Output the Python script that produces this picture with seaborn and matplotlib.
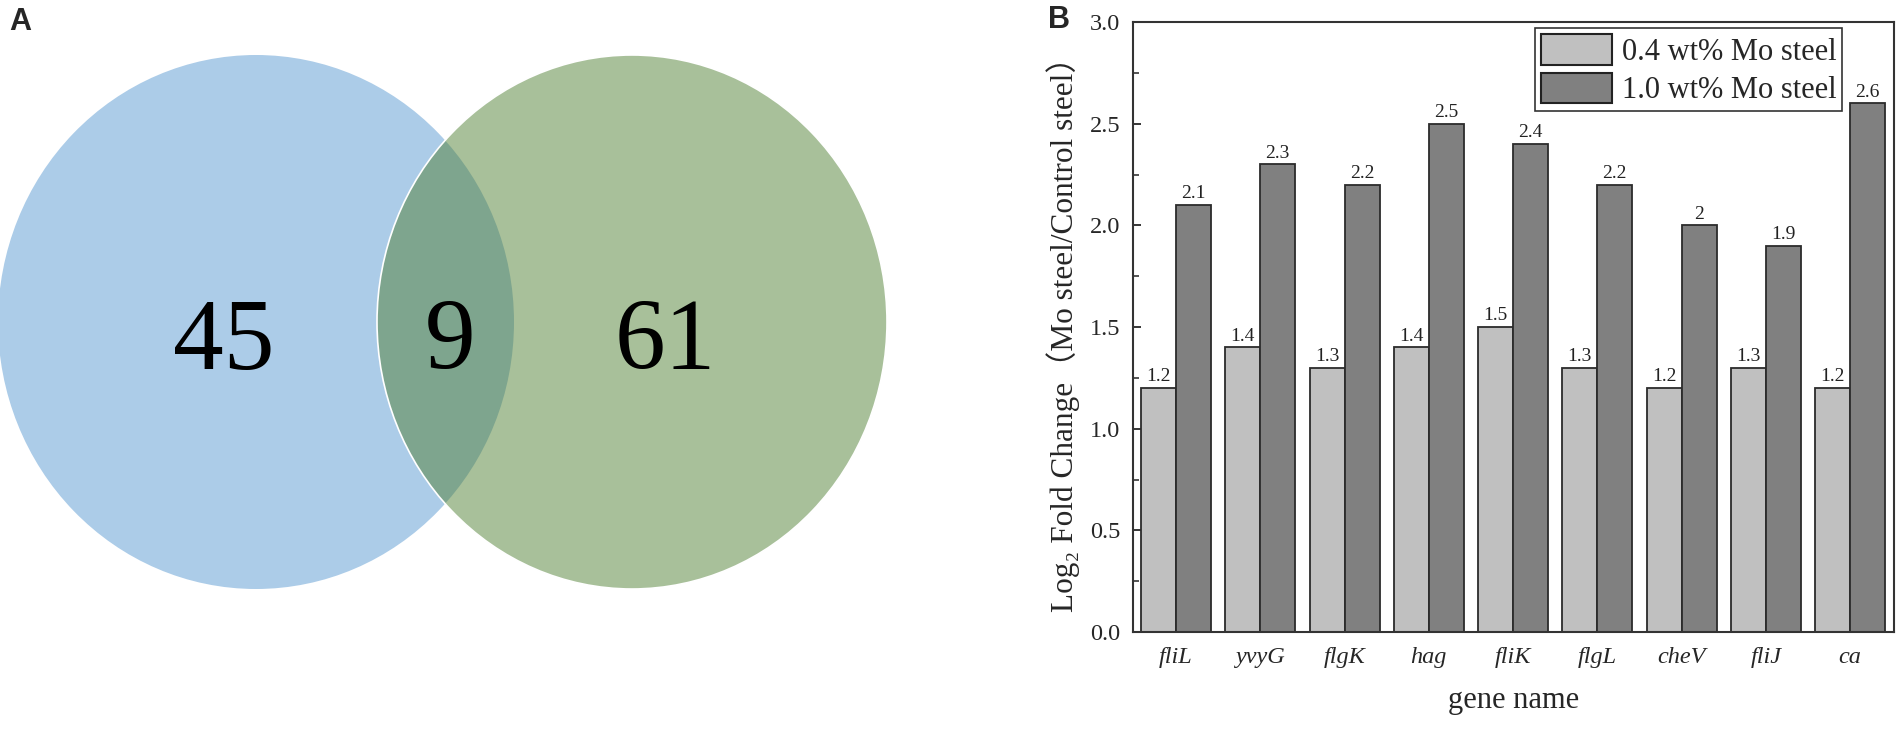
import pandas as pd
import matplotlib.pyplot as plt
import seaborn as sns
from matplotlib.patches import Ellipse
from matplotlib.ticker import MultipleLocator, FormatStrFormatter

# venn counts (A only, overlap, B only)
venn_counts = [45, 9, 61]

# fold change data
genes = ['fliL', 'yvyG', 'flgK', 'hag', 'fliK', 'flgL', 'cheV', 'fliJ', 'ca']
mo04 = [1.2, 1.4, 1.3, 1.4, 1.5, 1.3, 1.2, 1.3, 1.2]
mo10 = [2.1, 2.3, 2.2, 2.5, 2.4, 2.2, 2.0, 1.9, 2.6]
series = ['0.4 wt% Mo steel', '1.0 wt% Mo steel']

df = pd.DataFrame({
    'gene': genes * 2,
    'value': mo04 + mo10,
    'group': [series[0]] * len(genes) + [series[1]] * len(genes),
})

sns.set_theme(style='ticks')
plt.rcParams['font.family'] = ['Liberation Serif', 'Noto Sans CJK SC', 'DejaVu Sans']
plt.rcParams['axes.edgecolor'] = '#333333'

fig = plt.figure(figsize=(19.02, 7.31), dpi=100)

# ---- panel A: venn ----
axv = fig.add_axes([0, 0, 950 / 1902, 1])
axv.set_xlim(0, 950)
axv.set_ylim(731, 0)
axv.axis('off')

blue = Ellipse((256, 322), 516, 534, facecolor='#accce8', edgecolor='none')
green = Ellipse((632, 322), 510, 534, facecolor='#a8c09a', edgecolor='none')
axv.add_patch(blue)
axv.add_patch(green)
overlap = Ellipse((256, 322), 516, 534, facecolor='#7ea58e', edgecolor='none')
axv.add_patch(overlap)
overlap.set_clip_path(green)
axv.add_patch(Ellipse((632, 322), 510, 534, facecolor='none', edgecolor='white', lw=1.2))

for xpos, n in zip([224, 450, 665], venn_counts):
    axv.text(xpos, 369, str(n), fontsize=73, ha='center', va='baseline', color='black')

fig.text(20 / 1902, 1 - 22 / 731, 'A', family='Liberation Sans', fontweight='bold',
         fontsize=22, ha='center', va='center')
fig.text(1059 / 1902, 1 - 20 / 731, 'B', family='Liberation Sans', fontweight='bold',
         fontsize=22, ha='center', va='center')

# ---- panel B: bars ----
ax = fig.add_axes([1133 / 1902, 99 / 731, (1894 - 1133) / 1902, 610 / 731])
sns.barplot(data=df, x='gene', y='value', hue='group', palette=['#c0c0c0', '#808080'],
            width=0.83, saturation=1, edgecolor='#2b2b2b', linewidth=1.3,
            errorbar=None, ax=ax)

for c in ax.containers:
    ax.bar_label(c, fmt='%g', padding=2, fontsize=14, color='#222222')

ax.set_ylim(0, 3.0)
ax.set_xlim(-0.51, 8.52)
ax.yaxis.set_major_locator(MultipleLocator(0.5))
ax.yaxis.set_minor_locator(MultipleLocator(0.25))
ax.yaxis.set_major_formatter(FormatStrFormatter('%.1f'))
ax.tick_params(axis='y', which='major', direction='in', length=6, width=1.3, labelsize=17.5, pad=9)
ax.tick_params(axis='y', which='minor', direction='in', length=4, width=1.1)
ax.tick_params(axis='x', direction='in', length=6, width=1.3, labelsize=17.5, pad=11)
for lab in ax.get_xticklabels():
    lab.set_fontstyle('italic')
for sp in ax.spines.values():
    sp.set_linewidth(1.5)
    sp.set_visible(True)

ax.set_xlabel('gene name', fontsize=22, labelpad=13)
ax.set_ylabel('Log₂ Fold Change（Mo steel/Control steel）', fontsize=22.5, labelpad=7)

handles, labels = ax.get_legend_handles_labels()
for h in handles:
    h.set_edgecolor('#222222')
    h.set_linewidth(1.5)
ax.legend(handles, labels, loc='upper right', bbox_to_anchor=(0.932, 0.99), fontsize=22,
          handlelength=2.33, handleheight=1.15, handletextpad=0.3, borderpad=0.2,
          labelspacing=0.2, borderaxespad=0, fancybox=False, framealpha=1,
          edgecolor='#333333')
ax.get_legend().get_frame().set_linewidth(1.2)

fig.savefig('out.png', dpi=100)
